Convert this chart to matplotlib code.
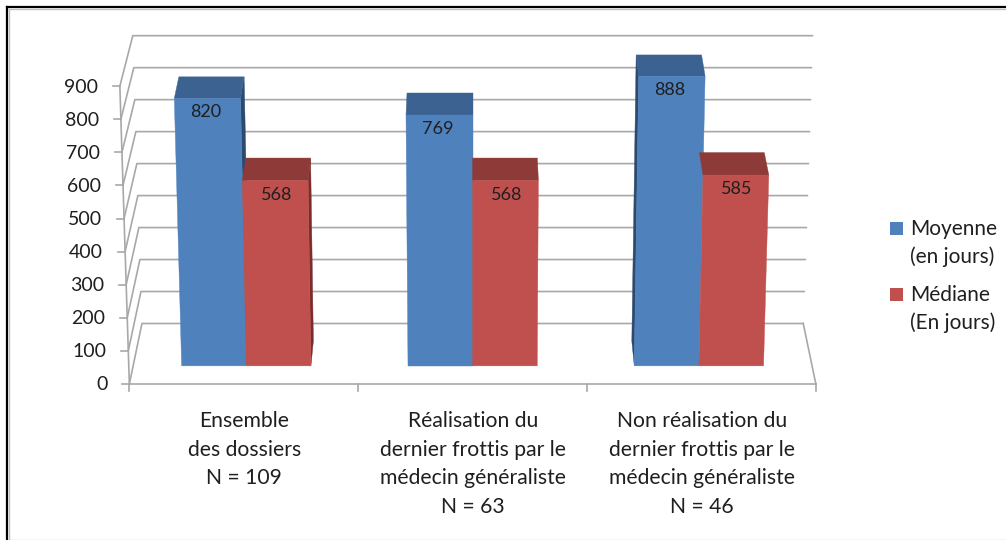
import numpy as np
import matplotlib
matplotlib.use('Agg')
import matplotlib.pyplot as plt
from matplotlib.patches import Polygon, Rectangle

categories = [['Ensemble', 'des dossiers', 'N = 109'],
              ['Réalisation du', 'dernier frottis par le', 'médecin généraliste', 'N = 63'],
              ['Non réalisation du', 'dernier frottis par le', 'médecin généraliste', 'N = 46']]
moyenne = [820, 769, 888]
mediane = [568, 568, 585]
y_ticks = [0, 100, 200, 300, 400, 500, 600, 700, 800, 900]
legend_labels = [['Moyenne', '(en jours)'], ['Médiane', '(En jours)']]

GRID = '#a8a8a8'
TEXT = '#1f1f1f'
BLUE = ['#4f81bd', '#3c6291', '#2c4a6e']
RED = ['#c0504d', '#8e3a38', '#7a2e2c']

plt.rcParams['font.family'] = ['Lato', 'DejaVu Sans']
fig = plt.figure(figsize=(10.06, 5.40), dpi=100)
ax = fig.add_axes([0, 0, 1, 1])
ax.set_xlim(0, 1006)
ax.set_ylim(540, 0)
ax.axis('off')


# fake 3d projection of the excel chart: u across, v value, d depth
def project(u, v, d):
    half = (343.25 - 12.6 * d) * (1 + 0.0277 * v / 900)
    x = 472.6 + 2 * (u - 0.5) * half
    y = 384 - 60.5 * d - (0.331 - 0.0112 * d ** 0.7) * v
    return x, y


def face(points, color, z):
    ax.add_patch(Polygon(points, closed=True, facecolor=color, edgecolor=color, lw=0.3, zorder=z))


def draw_bar(u0, u1, v, colors, z, left_side):
    d0, d1 = 0.30, 0.71
    # left side only shows on the right part of the chart, right side on the left part
    side_l = [project(u0, 0, d0), project(u0, v, d0), project(u0, v, d1), project(u0, 0, d1)]
    side_r = [project(u1, 0, d0), project(u1, v, d0), project(u1, v, d1), project(u1, 0, d1)]
    if left_side and side_l[2][0] < side_l[1][0]:
        face(side_l, colors[2], z)
    if side_r[2][0] > side_r[1][0]:
        face(side_r, colors[2], z)
    face([project(u0, v, d0), project(u1, v, d0), project(u1, v, d1), project(u0, v, d1)], colors[1], z + 0.1)
    face([project(u0, 0, d0), project(u1, 0, d0), project(u1, v, d0), project(u0, v, d0)], colors[0], z + 0.2)


# frame
ax.plot([7, 7], [540, 7], color='black', lw=1.6, zorder=5)
ax.plot([7, 1006], [7, 7], color='black', lw=1.6, zorder=5)
ax.plot([9, 9], [540, 9], color='#c0c0c0', lw=1, zorder=5)
ax.plot([9, 1006], [9, 9], color='#c0c0c0', lw=1, zorder=5)
ax.plot([9, 1006], [539.5, 539.5], color='#c8c8c8', lw=1, zorder=5)

# walls and grid
for v in y_ticks:
    pts = [project(0, v, 0), project(0, v, 1), project(1, v, 1)]
    ax.plot([p[0] for p in pts], [p[1] for p in pts], color=GRID, lw=1.2, zorder=1)
    x, y = project(0, v, 0)
    ax.plot([x - 7, x], [y, y], color=GRID, lw=1.2, zorder=1)
    ax.text(x - 22, y + 1, str(v), ha='right', va='center', fontsize=14, color=TEXT)

a, b = project(0, 0, 0), project(0, 900, 0)
ax.plot([a[0], b[0]], [a[1], b[1]], color=GRID, lw=1.2, zorder=1)
a, b = project(0, 0, 0), project(1, 0, 0)
ax.plot([a[0], b[0]], [a[1], b[1]], color=GRID, lw=1.2, zorder=1)
a, b = project(1, 0, 0), project(1, 0, 1)
ax.plot([a[0], b[0]], [a[1], b[1]], color=GRID, lw=1.2, zorder=1)
for i in range(4):
    x, y = project(i / 3, 0, 0)
    ax.plot([x, x], [y, y + 7], color=GRID, lw=1.2, zorder=1)

# bars
bar_w = 0.0952
for i in range(3):
    uc = (i + 0.5) / 3
    draw_bar(uc - bar_w, uc, moyenne[i], BLUE, 2, True)
    draw_bar(uc, uc + bar_w, mediane[i], RED, 3, False)
    for u, v, dx in [(uc - bar_w / 2, moyenne[i], -2), (uc + bar_w / 2, mediane[i], 1)]:
        x, y = project(u, v, 0.30)
        ax.text(x + dx, y + 14, str(v), ha='center', va='center', fontsize=13, color=TEXT, zorder=6)

    # category labels
    x, y = project(uc, 0, 0)
    for j, line in enumerate(categories[i]):
        ax.text(x + 0.5, y + 37 + j * 28.7, line, ha='center', va='center', fontsize=15.2, color=TEXT)

# legend
swatch_y = [222, 288]
for sy, colors, lines in zip(swatch_y, [BLUE, RED], legend_labels):
    ax.add_patch(Rectangle((890, sy), 13, 13, facecolor=colors[0], edgecolor='none'))
    ax.text(910, sy + 7, lines[0], ha='left', va='center', fontsize=15, color=TEXT)
    ax.text(910, sy + 35, lines[1], ha='left', va='center', fontsize=15, color=TEXT)

fig.savefig('out.png', dpi=100)
